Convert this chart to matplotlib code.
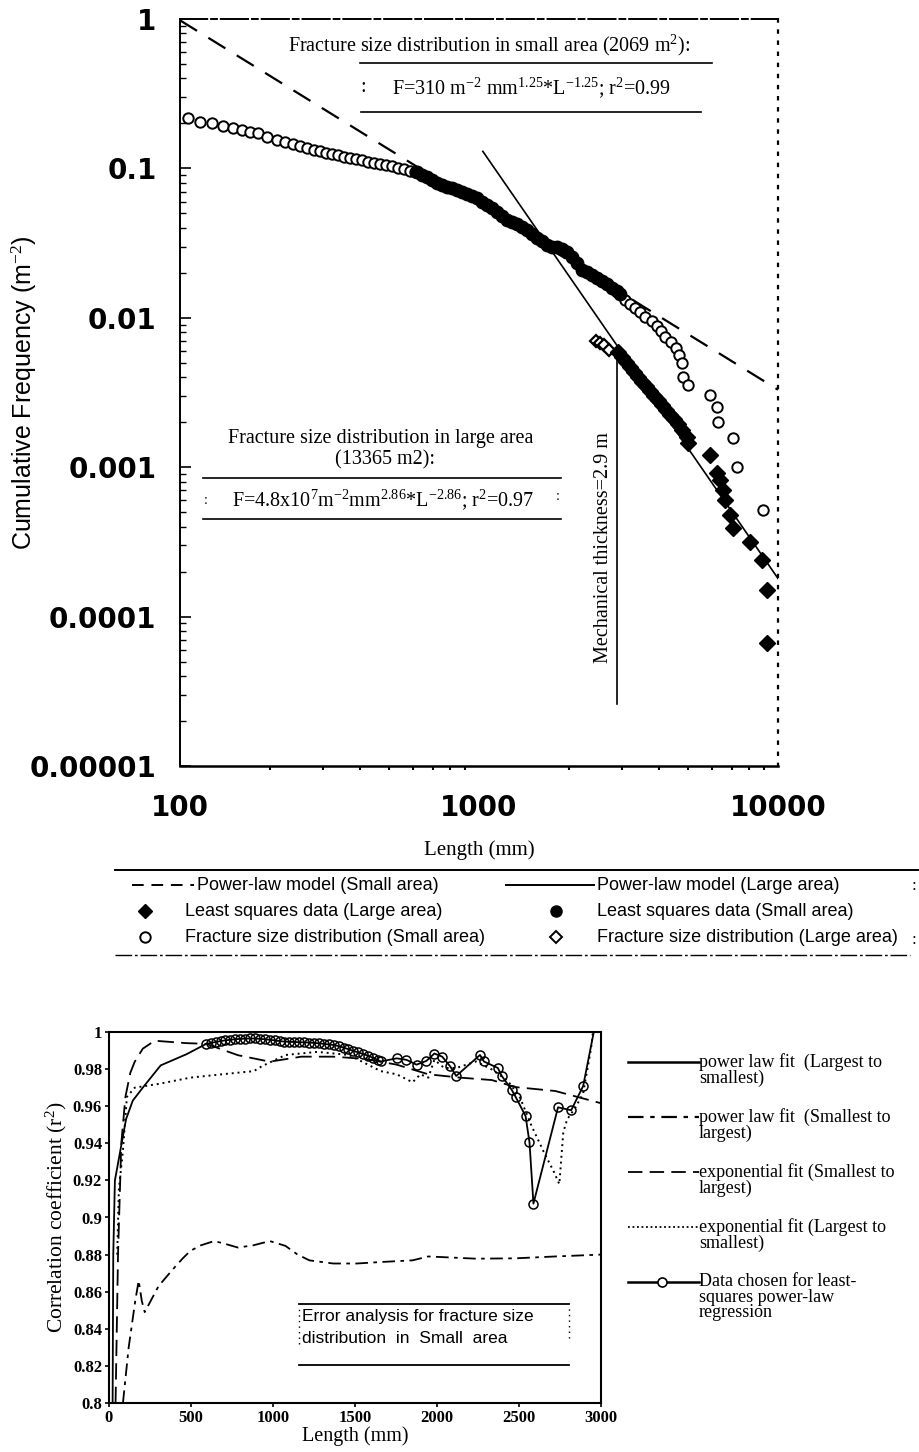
import matplotlib
matplotlib.use("Agg")
import matplotlib.pyplot as plt
from matplotlib.lines import Line2D
from matplotlib.ticker import NullFormatter
from matplotlib import font_manager

plt.rcParams['font.family'] = ['Liberation Serif', 'DejaVu Serif']
plt.rcParams['mathtext.fontset'] = 'custom'
plt.rcParams['mathtext.rm'] = 'Liberation Serif'
plt.rcParams['mathtext.it'] = 'Liberation Serif:italic'

installed = {f.name for f in font_manager.fontManager.ttflist}
HAS_NARROW = 'Liberation Sans Narrow' in installed
SANS_N = 'Liberation Sans Narrow' if HAS_NARROW else 'Liberation Sans'
LEG_SIZE = 15.5 if HAS_NARROW else 13

# ---------------- upper chart data (length mm, cumulative frequency m^-2) ----------------
small_fsd_L = [106, 117, 128, 139, 150, 161, 171, 182, 195, 211, 224, 239, 252, 266, 281,
               294, 308, 322, 338, 354, 370, 388, 406, 425, 445, 467, 489, 512, 536, 561,
               588, 611,
               3078, 3199, 3324, 3455, 3591, 3789, 3938, 4061, 4188, 4386, 4560, 4666,
               4775, 4812, 5000, 5925, 6252, 6300, 7071, 7295, 8909]
small_fsd_F = [0.217, 0.205, 0.201, 0.192, 0.186, 0.181, 0.175, 0.172, 0.162, 0.155, 0.150,
               0.146, 0.141, 0.137, 0.133, 0.131, 0.127, 0.125, 0.123, 0.119, 0.117, 0.116,
               0.114, 0.110, 0.109, 0.107, 0.105, 0.104, 0.101, 0.099, 0.096, 0.0946,
               0.01315, 0.01237, 0.01163, 0.01093, 0.01012, 0.00952, 0.00881, 0.00816,
               0.00744, 0.00689, 0.00628, 0.00564, 0.00498, 0.00402, 0.00355, 0.00304,
               0.00253, 0.00201, 0.00157, 0.00100, 0.00052]

small_ls_L = [620, 645, 670, 696, 723, 752, 782, 812, 844, 877, 912, 948, 985, 1023, 1064,
              1105, 1149, 1194, 1241, 1290, 1340, 1393, 1447, 1504, 1563, 1624, 1688, 1754,
              1823, 1895, 1969, 2046, 2127, 2210, 2297, 2387, 2480, 2578, 2680, 2785, 2894,
              2962]
small_ls_F = [0.0946, 0.0903, 0.0876, 0.0837, 0.0799, 0.0774, 0.0751, 0.0739, 0.0717, 0.0695,
              0.0674, 0.0654, 0.0634, 0.0596, 0.0569, 0.0543, 0.0511, 0.0480, 0.0451, 0.0438,
              0.0424, 0.0405, 0.0387, 0.0364, 0.0342, 0.0327, 0.0307, 0.0298, 0.0298, 0.0289,
              0.0276, 0.0255, 0.0233, 0.0209, 0.0203, 0.0193, 0.0185, 0.0176, 0.0168, 0.0158,
              0.0151, 0.0144]

large_fsd_L = [2462, 2539, 2619, 2721]
large_fsd_F = [0.0070, 0.00678, 0.00657, 0.00609]

large_ls_L = [2917, 3008, 3102, 3199, 3299, 3402, 3509, 3618, 3731, 3848, 3968, 4093, 4221,
              4353, 4489, 4630, 4775, 4962, 4990, 5925, 6252, 6397, 6547, 6648, 6910, 7071,
              8063, 8841, 9189, 9189]
large_ls_F = [0.0059, 0.00547, 0.00506, 0.00469, 0.00434, 0.00402, 0.00372, 0.0035, 0.00324,
              0.0030, 0.00282, 0.00261, 0.00241, 0.00224, 0.0021, 0.00195, 0.00177, 0.00159,
              0.00145, 0.00121, 0.000915, 0.000821, 0.000704, 0.000603, 0.000479, 0.000392,
              0.000316, 0.000239, 0.000151, 0.0000666]

small_model_L = [100, 10000]
small_model_F = [0.98, 0.0033]
large_model_L = [1030, 10000]
large_model_F = [0.13, 0.00018]

mech_L = [2900, 2900]
mech_F = [0.0058, 0.000026]

y_ticks = [1e-5, 1e-4, 1e-3, 1e-2, 1e-1, 1]
y_tick_labels = ['0.00001', '0.0001', '0.001', '0.01', '0.1', '1']
x_ticks = [100, 1000, 10000]
x_tick_labels = ['100', '1000', '10000']

# ---------------- lower chart data (length mm, r^2) ----------------
pl_ls_x = [22, 26, 36, 104, 145, 206, 315, 472, 593]
pl_ls_y = [0.80, 0.88, 0.920, 0.953, 0.963, 0.970, 0.982, 0.988, 0.9936]

pl_sl_x = [85, 120, 160, 181, 200, 218, 260, 302, 350, 399, 450, 496, 560, 641, 700, 786,
           880, 980, 1076, 1150, 1222, 1367, 1512, 1657, 1851, 1947, 2238, 2479, 2721, 3000]
pl_sl_y = [0.80, 0.83, 0.855, 0.866, 0.855, 0.849, 0.856, 0.863, 0.868, 0.873, 0.878, 0.882,
           0.885, 0.8873, 0.886, 0.8838, 0.885, 0.8873, 0.8847, 0.880, 0.8769, 0.8752,
           0.8752, 0.876, 0.8769, 0.879, 0.8778, 0.878, 0.879, 0.880]

ex_sl_x = [40, 55, 75, 100, 130, 157, 206, 278, 351, 472, 593, 786, 980, 1173, 1367, 1560,
           1754, 1947, 2141, 2334, 2479, 2721, 3000]
ex_sl_y = [0.80, 0.88, 0.94, 0.965, 0.978, 0.984, 0.991, 0.9953, 0.9948, 0.994, 0.9936,
           0.9875, 0.984, 0.9867, 0.9867, 0.9855, 0.9824, 0.9772, 0.9754, 0.9741, 0.9703,
           0.9682, 0.9616]

ex_ls_x = [50, 60, 85, 109, 157, 302, 496, 689, 883, 931, 1076, 1270, 1463, 1657, 1754, 1851,
           1899, 1947, 1984, 2044, 2117, 2238, 2334, 2431, 2504, 2576, 2649, 2709, 2746,
           2770, 2794, 2842, 2891, 2939, 2951]
ex_ls_y = [0.88, 0.915, 0.936, 0.965, 0.970, 0.972, 0.9754, 0.9772, 0.9789, 0.9815, 0.9876,
           0.9893, 0.9876, 0.9789, 0.9772, 0.9729, 0.9772, 0.9754, 0.985, 0.9806, 0.9806,
           0.9841, 0.9798, 0.9737, 0.9651, 0.9495, 0.9357, 0.9253, 0.918, 0.946, 0.953,
           0.959, 0.9668, 0.991, 1.0]

chosen_x = [593, 620, 650, 680, 710, 740, 770, 800, 830, 860, 890, 920, 950, 980, 1010, 1040,
            1070, 1100, 1130, 1160, 1190, 1220, 1250, 1280, 1310, 1340, 1370, 1400, 1430,
            1460, 1490, 1520, 1550, 1580, 1610, 1640, 1657, 1754, 1814, 1875, 1935, 1984,
            2032, 2080, 2117, 2262, 2286, 2371, 2395, 2455, 2479, 2540, 2564, 2588, 2738,
            2818, 2891, 2965]
chosen_y = [0.9936, 0.9941, 0.9946, 0.9951, 0.9955, 0.9958, 0.9961, 0.9963, 0.9964, 0.9965,
            0.9965, 0.9963, 0.9961, 0.9958, 0.9955, 0.9951, 0.9948, 0.9947, 0.9946, 0.9945,
            0.9944, 0.9943, 0.9941, 0.9939, 0.9936, 0.9933, 0.9930, 0.9924, 0.9916, 0.9907,
            0.9898, 0.9890, 0.9881, 0.9872, 0.9861, 0.9849, 0.9841, 0.9858, 0.9850, 0.9824,
            0.9844, 0.9884, 0.9867, 0.9815, 0.9763, 0.9876, 0.9841, 0.9806, 0.9763, 0.9689,
            0.9651, 0.9547, 0.9405, 0.9075, 0.9594, 0.9578, 0.9708, 1.004]

r2_ticks = [0.8, 0.82, 0.84, 0.86, 0.88, 0.9, 0.92, 0.94, 0.96, 0.98, 1]
r2_tick_labels = ['0.8', '0.82', '0.84', '0.86', '0.88', '0.9', '0.92', '0.94', '0.96', '0.98', '1']
len_ticks = [0, 500, 1000, 1500, 2000, 2500, 3000]

# ---------------- figure ----------------
W, H = 920, 1452
fig = plt.figure(figsize=(W / 100, H / 100), dpi=100)


def fx(x):
    return x / W


def fy(y):
    return 1 - y / H


def fline(x0, x1, y0, y1, **kw):
    fig.add_artist(Line2D([fx(x0), fx(x1)], [fy(y0), fy(y1)],
                          transform=fig.transFigure, color='black', **kw))


# upper axes
ax = fig.add_axes([fx(180), fy(766), (778 - 180) / W, (766 - 19) / H])
ax.set_xscale('log')
ax.set_yscale('log')

ax.plot(small_model_L, small_model_F, color='black', lw=1.6, dashes=(9, 6), zorder=2)
ax.plot(large_model_L, large_model_F, color='black', lw=1.2, zorder=2)
ax.plot(mech_L, mech_F, color='black', lw=1.2, zorder=2)

ax.plot(small_fsd_L, small_fsd_F, 'o', ms=7.5, mfc='white', mec='black', mew=1.4, zorder=3)
ax.plot(small_ls_L, small_ls_F, 'o', ms=9, mfc='black', mec='black', zorder=4)
ax.plot(large_fsd_L, large_fsd_F, 'D', ms=6.5, mfc='white', mec='black', mew=1.6, zorder=3)
ax.plot(large_ls_L, large_ls_F, 'D', ms=8, mfc='black', mec='black', zorder=4)

ax.set_xlim(100, 10000)
ax.set_ylim(1e-5, 1)
ax.set_yticks(y_ticks)
ax.set_yticklabels(y_tick_labels)
ax.set_xticks(x_ticks)
ax.set_xticklabels(x_tick_labels)
ax.xaxis.set_minor_formatter(NullFormatter())
ax.yaxis.set_minor_formatter(NullFormatter())
for lab in ax.get_xticklabels() + ax.get_yticklabels():
    lab.set_fontfamily('DejaVu Sans')
    lab.set_fontweight('bold')
    lab.set_fontsize(20)
ax.tick_params(axis='y', which='major', direction='in', length=8, width=1.2, pad=17)
ax.tick_params(axis='y', which='minor', direction='in', length=4, width=1)
ax.tick_params(axis='x', which='major', direction='out', length=0, pad=20)
ax.tick_params(axis='x', which='minor', direction='out', length=3, width=1.5)
ax.spines['left'].set_linewidth(1.4)
ax.spines['bottom'].set_linewidth(1.8)
ax.spines['top'].set_linewidth(1.4)
ax.spines['top'].set_linestyle((0, (14, 2, 3, 2)))
ax.spines['right'].set_linewidth(1.6)
ax.spines['right'].set_linestyle((0, (1, 4)))

ax.set_ylabel('Cumulative Frequency (m$^{\\mathrm{-2}}$)', fontfamily=SANS_N,
              fontsize=21 if HAS_NARROW else 18)
ax.yaxis.set_label_coords(-0.235, 0.5)
ax.set_xlabel('Length (mm)', fontsize=15)
ax.xaxis.set_label_coords(0.5, -0.1)

# annotations in the upper chart
fig.text(fx(489), fy(45), 'Fracture size distribution in small area (2069 m$^{\\mathrm{2}}$):',
         ha='center', va='center', fontsize=14.5)
fline(360, 712, 63, 63, lw=1.2)
fig.text(fx(363), fy(88), ':', ha='center', va='center', fontsize=14.5)
fig.text(fx(532), fy(88),
         'F=310 m$^{\\mathrm{-2}}$ mm$^{\\mathrm{1.25}}$*L$^{\\mathrm{-1.25}}$; r$^{\\mathrm{2}}$=0.99',
         ha='center', va='center', fontsize=14.5)
fline(361, 701, 112, 112, lw=1.2)

fig.text(fx(381), fy(438), 'Fracture size distribution in large area',
         ha='center', va='center', fontsize=14.5)
fig.text(fx(385), fy(460), '(13365 m2):', ha='center', va='center', fontsize=14.5)
fline(203, 561, 478, 478, lw=1.2)
fig.text(fx(206), fy(500), ':', ha='center', va='center', fontsize=10)
fig.text(fx(558), fy(496), ':', ha='center', va='center', fontsize=10)
fig.text(fx(383), fy(500),
         'F=4.8x10$^{\\mathrm{7}}$m$^{\\mathrm{-2}}$mm$^{\\mathrm{2.86}}$*L$^{\\mathrm{-2.86}}$; r$^{\\mathrm{2}}$=0.97',
         ha='center', va='center', fontsize=14.5)
fline(203, 561, 519, 519, lw=1.2)

fig.text(fx(604), fy(548), 'Mechanical thickness=2.9 m', rotation=90,
         ha='center', va='center', fontsize=14.5)

# upper legend
fline(115, 918, 870, 870, lw=1.4)
fline(115, 910, 955, 955, lw=1.0, ls=(0, (12, 2, 2, 2)))
leg_rows = [885, 911, 937]
fline(132, 194, leg_rows[0], leg_rows[0], lw=1.4, dashes=(6, 4))
fline(506, 594, leg_rows[0], leg_rows[0], lw=1.4)
fig.add_artist(Line2D([fx(145)], [fy(leg_rows[1])], transform=fig.transFigure, marker='D',
                      ms=7, mfc='black', mec='black', ls='none'))
fig.add_artist(Line2D([fx(556)], [fy(leg_rows[1])], transform=fig.transFigure, marker='o',
                      ms=8, mfc='black', mec='black', ls='none'))
fig.add_artist(Line2D([fx(145)], [fy(leg_rows[2])], transform=fig.transFigure, marker='o',
                      ms=7.5, mfc='white', mec='black', mew=1.4, ls='none'))
fig.add_artist(Line2D([fx(556)], [fy(leg_rows[2])], transform=fig.transFigure, marker='D',
                      ms=6.5, mfc='white', mec='black', mew=1.4, ls='none'))
leg_texts = [(197, 0, 'Power-law model (Small area)'),
             (597, 0, 'Power-law model (Large area)'),
             (185, 1, 'Least squares data (Large area)'),
             (597, 1, 'Least squares data (Small area)'),
             (185, 2, 'Fracture size distribution (Small area)'),
             (597, 2, 'Fracture size distribution (Large area)')]
for x0, row, txt in leg_texts:
    fig.text(fx(x0), fy(leg_rows[row]), txt, ha='left', va='center',
             fontfamily=SANS_N, fontsize=LEG_SIZE)
fig.text(fx(914), fy(886), ':', ha='center', va='center', fontsize=12)
fig.text(fx(914), fy(940), ':', ha='center', va='center', fontsize=12)

# ---------------- lower axes ----------------
bx = fig.add_axes([fx(109), fy(1403), (601 - 109) / W, (1403 - 1032) / H])
bx.plot(pl_ls_x, pl_ls_y, color='black', lw=1.3)
bx.plot(pl_sl_x, pl_sl_y, color='black', lw=1.3, dashes=(7, 3, 2, 3))
bx.plot(ex_sl_x, ex_sl_y, color='black', lw=1.3, dashes=(9, 4))
bx.plot(ex_ls_x, ex_ls_y, color='black', lw=1.4, dashes=(1, 2))
bx.plot(chosen_x, chosen_y, color='black', lw=1.3)
bx.plot(chosen_x[:-1], chosen_y[:-1], 'o', ms=6.5, mfc='none', mec='black', mew=1.1)

# boxed note inside the lower chart
bx.plot([1161, 2806], [0.8536, 0.8536], color='black', lw=1.3)
bx.plot([1161, 2806], [0.8207, 0.8207], color='black', lw=1.3)
bx.plot([1161, 1161], [0.832, 0.852], color='black', lw=1.0, dashes=(1, 3))
bx.plot([2806, 2806], [0.835, 0.852], color='black', lw=1.0, dashes=(1, 3))
bx.text(1175, 0.8466, 'Error analysis for fracture size', ha='left', va='center',
        fontfamily='Liberation Sans', fontsize=12.5)
bx.text(1175, 0.8350, 'distribution  in  Small  area', ha='left', va='center',
        fontfamily='Liberation Sans', fontsize=12.5)

bx.set_xlim(0, 3000)
bx.set_ylim(0.8, 1.0)
bx.set_xticks(len_ticks)
bx.set_yticks(r2_ticks)
bx.set_yticklabels(r2_tick_labels)
for lab in bx.get_xticklabels() + bx.get_yticklabels():
    lab.set_fontweight('bold')
    lab.set_fontsize(12)
bx.tick_params(direction='out', length=3, width=1.2, pad=2)
for s in bx.spines.values():
    s.set_linewidth(1.5)
bx.set_ylabel('Correlation coefficient (r$^{\\mathrm{2}}$)', fontsize=15.5, labelpad=3)
bx.set_xlabel('Length (mm)', fontsize=14.5, labelpad=0)

# lower legend
lo_rows = [1062, 1117, 1172, 1227, 1282]
fline(628, 699, lo_rows[0], lo_rows[0], lw=1.8)
fline(628, 699, lo_rows[1], lo_rows[1], lw=1.6, dashes=(7, 3, 2, 3))
fline(628, 699, lo_rows[2], lo_rows[2], lw=1.3, dashes=(8, 4))
fline(628, 699, lo_rows[3], lo_rows[3], lw=1.3, dashes=(1, 1.5))
fline(628, 699, lo_rows[4], lo_rows[4], lw=1.8)
fig.add_artist(Line2D([fx(662)], [fy(lo_rows[4])], transform=fig.transFigure, marker='o',
                      ms=6.5, mfc='white', mec='black', mew=1.2, ls='none'))
lo_texts = ['power law fit  (Largest to\nsmallest)',
            'power law fit  (Smallest to\nlargest)',
            'exponential fit (Smallest to\nlargest)',
            'exponential fit (Largest to\nsmallest)',
            'Data chosen for least-\nsquares power-law\nregression']
for y0, txt in zip(lo_rows, lo_texts):
    fig.text(fx(699), fy(y0 - 9), txt, ha='left', va='top', fontsize=13,
             linespacing=0.9)

fig.savefig('out.png', dpi=100)
